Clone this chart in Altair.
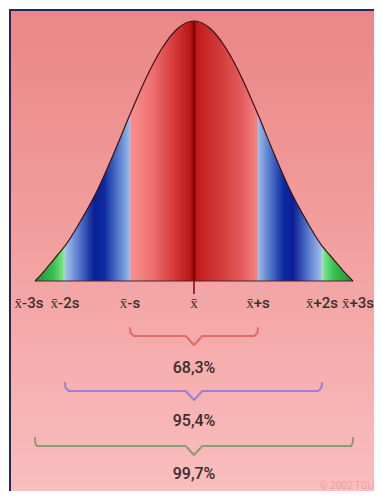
import altair as alt
import pandas as pd

# ---- data ----
# curve: position in s units and relative height of the density
z_vals = [-3, -2.75, -2.5, -2.25, -2, -1.75, -1.5, -1.25, -1, -0.75, -0.5, -0.25, 0,
          0.25, 0.5, 0.75, 1, 1.25, 1.5, 1.75, 2, 2.25, 2.5, 2.75, 3]
h_vals = [0, 0.03, 0.065, 0.10, 0.135, 0.235, 0.35, 0.49, 0.64, 0.78, 0.895, 0.972, 1.0,
          0.972, 0.895, 0.78, 0.64, 0.49, 0.35, 0.235, 0.135, 0.10, 0.065, 0.03, 0]

tick_z = [-3, -2, -1, 0, 1, 2, 3]
tick_labels = ["x\u0304-3s", "x\u0304-2s", "x\u0304-s", "x\u0304", "x\u0304+s", "x\u0304+2s", "x\u0304+3s"]

brace_lo = [-1, -2, -3]
brace_hi = [1, 2, 3]
brace_pct = ["68,3%", "95,4%", "99,7%"]
brace_names = ["one", "two", "three"]

# ---- layout / style ----
W, H = 366, 483
X_RANGE = [26, 56, 121, 185, 249, 313, 344]
Y_RANGE = [272, 12]
brace_level = [327, 382, 437]
pct_level = [359, 412, 465]
brace_colors = ["#e26a6a", "#9a7fd6", "#8f9c72"]
label_y = 294

xs = alt.Scale(domain=tick_z, range=X_RANGE, nice=False, zero=False)
ys = alt.Scale(domain=[0, 1], range=Y_RANGE, nice=False, zero=False)
ps = alt.Scale(domain=[0, H], range=[0, H], nice=False, zero=False)

curve = pd.DataFrame({"z": z_vals, "h": h_vals})
curve["h0"] = 0.0


def grad(stops, vertical=False):
    return alt.Gradient(gradient="linear", x1=0, x2=0 if vertical else 1, y1=0, y2=1 if vertical else 0,
                        stops=[alt.GradientStop(color=c, offset=o) for o, c in stops])


layers = []
# background panel
layers.append(
    alt.Chart(alt.Data(values=[{}])).mark_rect(
        color=grad([(0, "#ea8686"), (0.5, "#f3a0a0"), (1, "#f9bebe")], vertical=True)
    ).encode(x=alt.value(0), x2=alt.value(W), y=alt.value(0), y2=alt.value(H))
)

regions = [
    (-3, -2, [(0, "#1c9632"), (0.6, "#38bd4e"), (0.92, "#72e486"), (1, "#a8f0b0")]),
    (-2, -1, [(0, "#a6c2ee"), (0.2, "#5c7fd0"), (0.45, "#0a1f96"), (0.6, "#0c2aa0"),
              (0.85, "#5f86d2"), (1, "#9cbbe8")]),
    (-1, 0, [(0, "#f79090"), (0.35, "#ee7070"), (0.7, "#d43838"), (0.93, "#bb1818"), (1, "#9a0606")]),
    (0, 1, [(0, "#a40808"), (0.06, "#c21c1c"), (0.4, "#d23a3a"), (0.75, "#e45c5c"), (1, "#f48484")]),
    (1, 2, [(0, "#9cbbe8"), (0.15, "#5f86d2"), (0.4, "#0c2aa0"), (0.55, "#0a1f96"),
            (0.8, "#5c7fd0"), (1, "#a6c2ee")]),
    (2, 3, [(0, "#a8f0b0"), (0.08, "#72e486"), (0.4, "#38bd4e"), (1, "#1c9632")]),
]

for a, b, stops in regions:
    sub = curve[(curve.z >= a) & (curve.z <= b)]
    layers.append(
        alt.Chart(sub).mark_area(interpolate="monotone", color=grad(stops)).encode(
            x=alt.X("z:Q", scale=xs, axis=None),
            y=alt.Y("h:Q", scale=ys, axis=None),
            y2="h0:Q",
        )
    )

# boundary lines
tick_h = [h_vals[z_vals.index(t)] for t in tick_z]
bounds = pd.DataFrame({"z": tick_z, "h": tick_h})
inner = bounds[bounds.z.isin([-2, -1, 1, 2])]
layers.append(
    alt.Chart(inner).mark_rule(color="#b4bed8", strokeWidth=1, opacity=0.9).encode(
        x=alt.X("z:Q", scale=xs, axis=None),
        y=alt.Y("h:Q", scale=ys, axis=None),
        y2=alt.value(285),
    )
)
layers.append(
    alt.Chart(bounds[bounds.z == 0]).mark_rule(color="#7a0505", strokeWidth=1.5).encode(
        x=alt.X("z:Q", scale=xs, axis=None),
        y=alt.Y("h:Q", scale=ys, axis=None),
        y2=alt.value(285),
    )
)
# baseline
base = pd.DataFrame({"a": [tick_z[0]], "b": [tick_z[-1]], "h": [0.0]})
layers.append(
    alt.Chart(base).mark_rule(color="#4a2525", strokeWidth=1).encode(
        x=alt.X("a:Q", scale=xs, axis=None), x2="b:Q",
        y=alt.Y("h:Q", scale=ys, axis=None),
    )
)
# curve outline
layers.append(
    alt.Chart(curve).mark_line(interpolate="monotone", color="#3a1212", strokeWidth=1.2).encode(
        x=alt.X("z:Q", scale=xs, axis=None),
        y=alt.Y("h:Q", scale=ys, axis=None),
    )
)

# tick labels
labels = pd.DataFrame({"z": tick_z, "t": tick_labels})
font = "Roboto"
for sel, dx in [([-2, -1, 0, 1, 2], 0), ([-3], -6), ([3], 5)]:
    layers.append(
        alt.Chart(labels[labels.z.isin(sel)]).mark_text(
            font=font, fontSize=15, fontWeight=500, color="#3b3030", baseline="middle", dx=dx
        ).encode(
            x=alt.X("z:Q", scale=xs, axis=None),
            y=alt.value(label_y),
            text="t:N",
        )
    )

# braces
rows = []
for name, lo, hi, lev in zip(brace_names, brace_lo, brace_hi, brace_level):
    mid = (lo + hi) / 2
    pts = [(lo, lev - 8), (lo + 0.01, lev - 3), (lo + 0.06, lev), (mid - 0.13, lev),
           (mid, lev + 9), (mid + 0.13, lev), (hi - 0.06, lev), (hi - 0.01, lev - 3), (hi, lev - 8)]
    for i, (x, y) in enumerate(pts):
        rows.append({"brace": name, "i": i, "z": x, "py": y})
braces = pd.DataFrame(rows)
layers.append(
    alt.Chart(braces).mark_line(strokeWidth=2, strokeCap="round", strokeJoin="round").encode(
        x=alt.X("z:Q", scale=xs, axis=None),
        y=alt.Y("py:Q", scale=ps, axis=None),
        color=alt.Color("brace:N", scale=alt.Scale(domain=brace_names, range=brace_colors), legend=None),
        detail="brace:N",
        order="i:Q",
    )
)
pcts = pd.DataFrame({"t": brace_pct, "py": pct_level, "z": [0, 0, 0]})
layers.append(
    alt.Chart(pcts).mark_text(font=font, fontSize=16, fontWeight=500, color="#3a2c2c", baseline="middle").encode(
        x=alt.X("z:Q", scale=xs, axis=None),
        y=alt.Y("py:Q", scale=ps, axis=None),
        text="t:N",
    )
)
# copyright
layers.append(
    alt.Chart(alt.Data(values=[{"t": "\u00a9 2002 TGU"}])).mark_text(
        font=font, fontSize=10, color="#e9a2a8", align="right", baseline="middle"
    ).encode(x=alt.value(W - 1), y=alt.value(477), text="t:N")
)
# frame (left and top edges)
layers.append(
    alt.Chart(alt.Data(values=[{}])).mark_rule(color="#1c2a66", strokeWidth=2).encode(
        x=alt.value(1), y=alt.value(0), y2=alt.value(H)
    )
)
layers.append(
    alt.Chart(alt.Data(values=[{}])).mark_rule(color="#1c2a66", strokeWidth=2).encode(
        y=alt.value(1), x=alt.value(0), x2=alt.value(W)
    )
)

chart = alt.layer(*layers).resolve_scale(y="independent").properties(
    width=W, height=H, padding=0,
    autosize=alt.AutoSizeParams(type="fit", contains="padding"),
).configure_view(stroke=None)

chart.save("out.html", embed_options={"renderer": "svg", "actions": False})
